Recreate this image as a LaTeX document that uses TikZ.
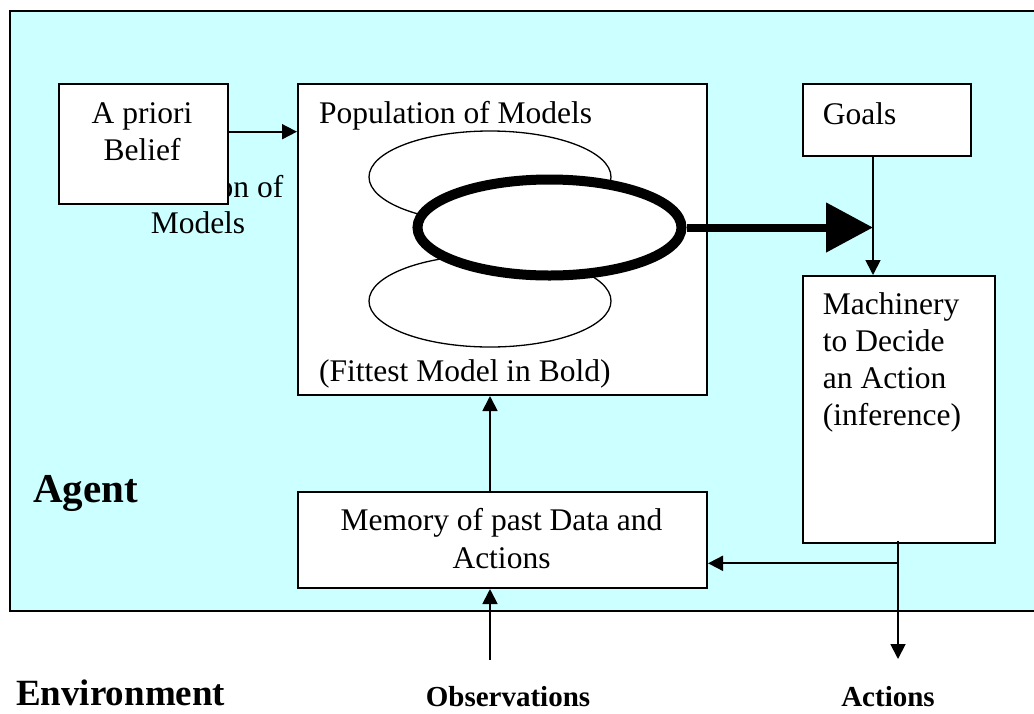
\documentclass[tikz,border=0pt]{standalone}
\usepackage{fontspec}
\setmainfont{Liberation Serif}
\usetikzlibrary{arrows.meta,shapes.geometric}
\definecolor{agentcyan}{RGB}{204,255,255}
\begin{document}
\begin{tikzpicture}[x=1pt,y=-1pt,
  box/.style={draw, line width=2pt, fill=white, inner sep=0pt, anchor=north west},
  txt/.style={inner sep=0pt, font=\fontsize{31.5}{37.5}\selectfont},
  ctr/.style={txt, anchor=base},
  lft/.style={txt, anchor=base west},
  heading/.style={inner sep=0pt, anchor=base west, font=\bfseries\fontsize{#1}{#1}\selectfont},
  small/.style={inner sep=0pt, anchor=base, font=\bfseries\fontsize{29}{29}\selectfont},
  model/.style={ellipse, draw, line width=1.3pt, fill=white, inner sep=0pt,
                minimum width=242pt, minimum height=92pt},
  arr/.style={line width=1.8pt, -{Triangle[length=15pt,width=15pt]}}]
\useasboundingbox (0,0) rectangle (1034,713);

% agent region
\draw[line width=2.2pt, fill=agentcyan] (10,11) rectangle (1040,611);

% label partly covered by the a-priori box
\node[ctr] (hidden1) at (198,197.7) {Population of};
\node[ctr] (hidden2) at (198,233.3) {Models};

% boxes
\node[box, minimum width=168.7pt, minimum height=120pt] (prior) at (58,83) {};
\node[box, minimum width=409pt, minimum height=311pt] (pop) at (297,83) {};
\node[box, minimum width=168pt, minimum height=72pt] (goals) at (802,83) {};
\node[box, minimum width=192pt, minimum height=266.5pt] (mach) at (802,275) {};
\node[box, minimum width=409pt, minimum height=96pt] (mem) at (297,491) {};

% box texts
\node[ctr] (t1) at (142,123.3) {A priori};
\node[ctr] (t2) at (142,160.7) {Belief};
\node[lft] (t3) at (319,123.3) {Population of Models};
\node[lft] (t4) at (319,381.7) {(Fittest Model in Bold)};
\node[lft] (t5) at (822.7,124) {Goals};
\node[lft] (t6) at (822.7,314) {Machinery};
\node[lft] (t7) at (822.7,351.3) {to Decide};
\node[lft] (t8) at (822.7,388.6) {an Action};
\node[lft] (t9) at (822.7,425.9) {(inference)};
\node[ctr] (t10) at (501.5,530) {Memory of past Data and};
\node[ctr] (t11) at (501.5,568) {Actions};

% population of models
\node[model] (m1) at (490,177) {};
\node[model] (m2) at (490,301) {};
\node[ellipse, draw, line width=10pt, fill=white, inner sep=0pt,
      minimum width=264pt, minimum height=96pt] (best) at (549.5,227.5) {};

% region labels
\node[heading=41] (agent) at (33,502.7) {Agent};
\node[heading=37] (env) at (16,705.5) {Environment};
\node[small] (obslbl) at (508,706.5) {Observations};
\node[small] (actlbl) at (888,706.5) {Actions};

% connector end points
\coordinate (join) at (873,227.5);
\coordinate (obs) at (490,660);
\coordinate (actend) at (898,659);
\coordinate (branch) at (898,563.3);

% connectors
\draw[arr] ([yshift=12.3pt]prior.east) -- ([yshift=12.3pt]prior.east -| pop.west);
\draw[line width=8pt, -{Triangle[length=47pt,width=48pt]}] (best.east) -- (join);
\draw[arr] (join |- goals.south) -- (join |- mach.north);
\draw[arr] (obs |- mem.north) -- (obs |- pop.south);
\draw[arr] (obs) -- (obs |- mem.south);
\draw[arr] ([yshift=3pt]actend |- mach.south) -- (actend);
\draw[arr] (branch) -- (branch -| mem.east);
\end{tikzpicture}
\end{document}
